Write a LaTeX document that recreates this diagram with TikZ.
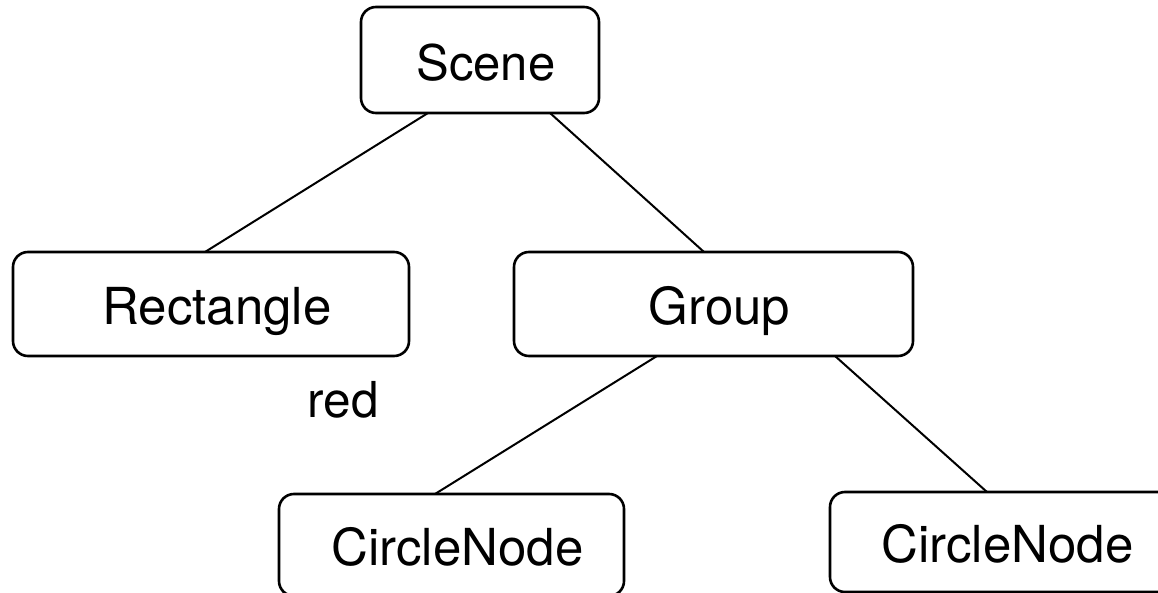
\documentclass[tikz,border=0pt]{standalone}
\usepackage{fontspec}
\setmainfont{TeX Gyre Heros}
\begin{document}
\begin{tikzpicture}[x=1pt,y=-1pt,
  treebox/.style={draw=black, line width=2.6pt, rounded corners=15pt,
    inner sep=0pt, outer sep=0pt},
  lbl/.style={font=\fontsize{51}{60}\selectfont, text height=37pt,
    text depth=0pt, inner sep=0pt, xshift=6pt, yshift=-2pt},
  edge/.style={draw=black, line width=2pt}]
  \useasboundingbox (0,0) rectangle (1158,593);
  \clip (0,0) rectangle (1158,593);

  % tree nodes
  \node[treebox, minimum width=238pt, minimum height=106pt,
        label={[lbl, font=\fontsize{49}{60}\selectfont]center:Scene}] (scene) at (480,60) {};
  \node[treebox, minimum width=396pt, minimum height=104pt,
        label={[lbl]center:Rectangle}] (rect) at (211,304) {};
  \node[treebox, minimum width=399pt, minimum height=104pt,
        label={[lbl]center:Group}] (group) at (713.5,304) {};
  \node[treebox, minimum width=345pt, minimum height=102pt,
        label={[lbl]center:CircleNode}] (cn1) at (451.5,545) {};
  \node[treebox, minimum width=343pt, minimum height=100pt,
        label={[lbl]center:CircleNode}] (cn2) at (1001.5,542) {};

  % attribute text
  \node[font=\fontsize{49.5}{60}\selectfont, inner sep=0pt, anchor=base]
        (red) at (343,417) {red};

  % connectors
  \draw[edge] ([xshift=-52pt]scene.south) -- ([xshift=-6pt]rect.north);
  \draw[edge] ([xshift=70pt]scene.south) -- ([xshift=-9.5pt]group.north);
  \draw[edge] ([xshift=-56.5pt]group.south) -- ([xshift=-16.5pt]cn1.north);
  \draw[edge] ([xshift=121.5pt]group.south) -- ([xshift=-14.5pt]cn2.north);
\end{tikzpicture}
\end{document}
